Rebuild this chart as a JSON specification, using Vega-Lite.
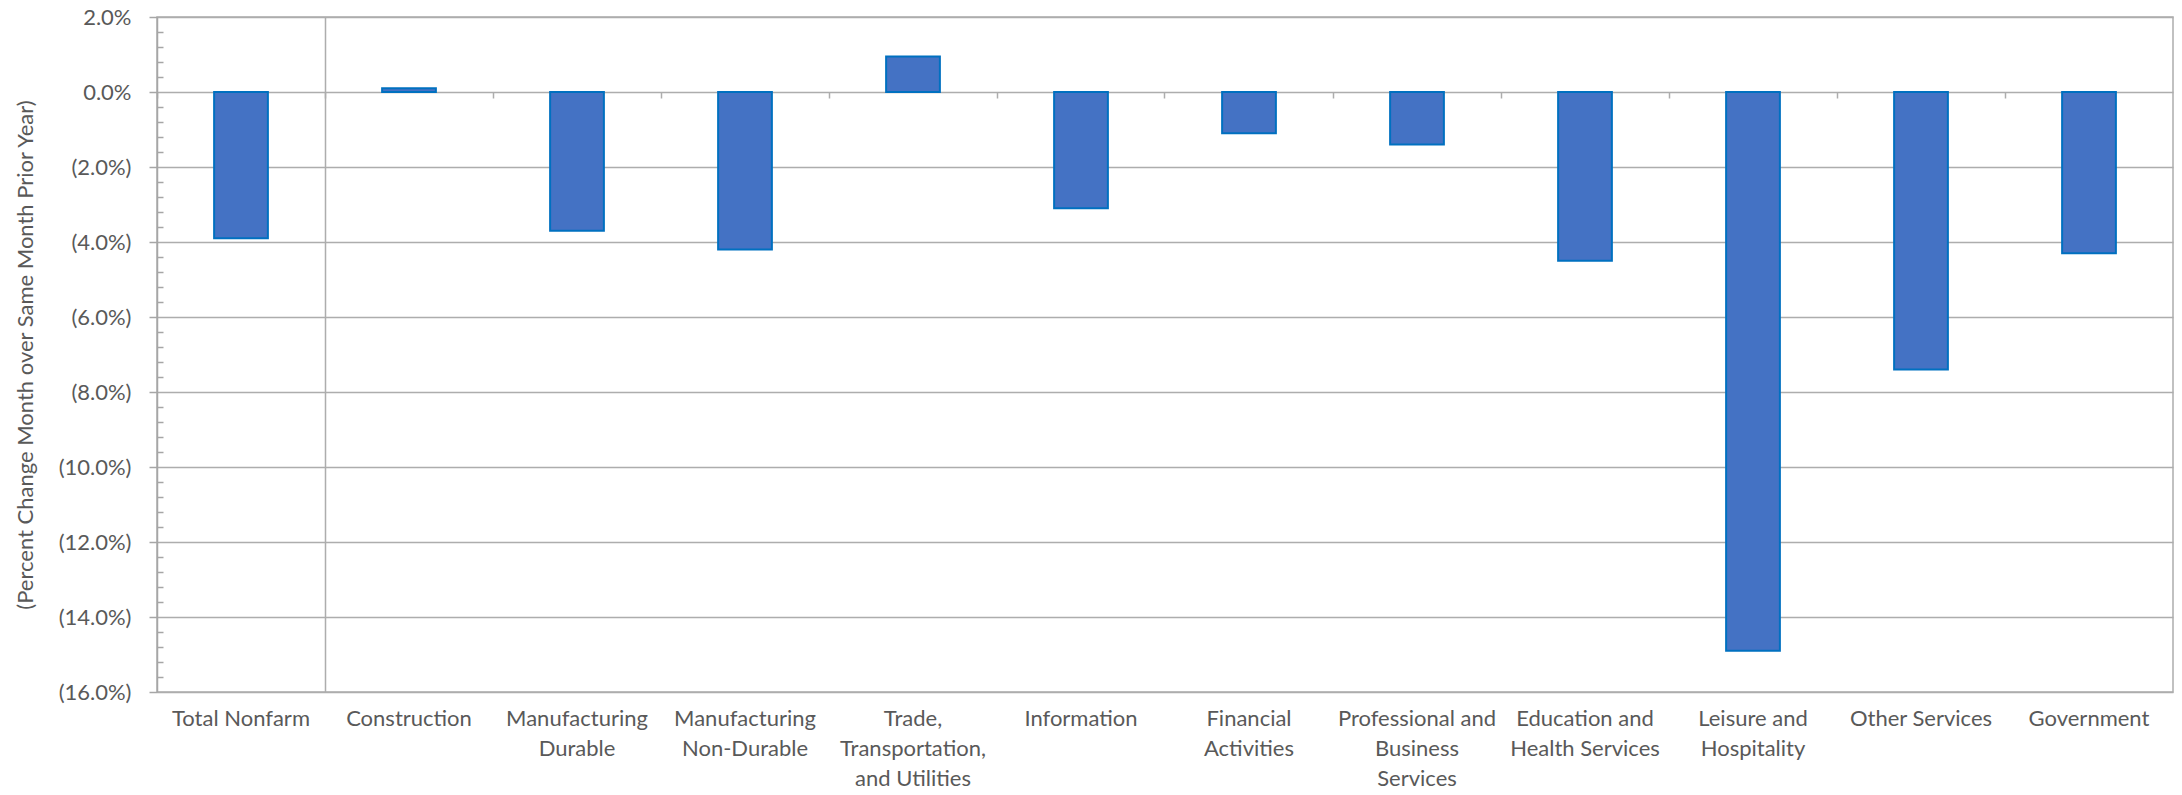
{
  "$schema": "https://vega.github.io/schema/vega-lite/v6.json",
  "autosize": "none",
  "padding": {"left": 157, "top": 17, "right": 9, "bottom": 103},
  "width": 2016,
  "height": 675,
  "background": "white",
  "config": {
    "font": "Lato",
    "view": {"stroke": "#ADADAD", "strokeWidth": 1.5},
    "axis": {"labelColor": "#595959", "titleColor": "#595959", "labelFont": "Lato", "titleFont": "Lato"}
  },
  "data": {
    "values": [
      {"industry": "Total Nonfarm", "change": -3.9},
      {"industry": "Construction", "change": 0.1},
      {"industry": "Manufacturing Durable", "change": -3.7},
      {"industry": "Manufacturing Non-Durable", "change": -4.2},
      {"industry": "Trade, Transportation, and Utilities", "change": 0.95},
      {"industry": "Information", "change": -3.1},
      {"industry": "Financial Activities", "change": -1.1},
      {"industry": "Professional and Business Services", "change": -1.4},
      {"industry": "Education and Health Services", "change": -4.5},
      {"industry": "Leisure and Hospitality", "change": -14.9},
      {"industry": "Other Services", "change": -7.4},
      {"industry": "Government", "change": -4.3}
    ]
  },
  "resolve": {"axis": {"x": "independent", "y": "independent"}},
  "layer": [
    {
      "mark": {"type": "bar", "opacity": 0},
      "encoding": {
        "x": {
          "field": "industry", "type": "nominal", "sort": null,
          "scale": {"paddingInner": 0.68, "paddingOuter": 0.34},
          "axis": {"orient": "bottom", "values": ["Construction"], "bandPosition": -1.0625, "grid": true, "gridColor": "#ADADAD", "gridWidth": 1.5, "ticks": false, "labels": false, "domain": false, "title": null}
        },
        "y": {"field": "change", "type": "quantitative", "axis": null}
      }
    },
    {
      "mark": {"type": "bar", "fill": "#4472C4", "stroke": "#0070C0", "strokeWidth": 2},
      "encoding": {
        "x": {
          "field": "industry", "type": "nominal", "sort": null,
          "scale": {"paddingInner": 0.68, "paddingOuter": 0.34},
          "axis": {
            "orient": "bottom", "title": null, "labelAngle": 0, "ticks": false, "domain": false, "grid": false,
            "labelFontSize": 22, "labelLineHeight": 30, "labelBaseline": "top", "labelPadding": 16, "labelLimit": 400,
            "labelExpr": "datum.value == 'Manufacturing Durable' ? ['Manufacturing','Durable'] : datum.value == 'Manufacturing Non-Durable' ? ['Manufacturing','Non-Durable'] : datum.value == 'Trade, Transportation, and Utilities' ? ['Trade,','Transportation,','and Utilities'] : datum.value == 'Financial Activities' ? ['Financial','Activities'] : datum.value == 'Professional and Business Services' ? ['Professional and','Business','Services'] : datum.value == 'Education and Health Services' ? ['Education and','Health Services'] : datum.value == 'Leisure and Hospitality' ? ['Leisure and','Hospitality'] : datum.value"
          }
        },
        "y": {
          "field": "change", "type": "quantitative",
          "scale": {"domain": [-16, 2], "nice": false, "zero": false},
          "axis": {
            "orient": "left",
            "values": [2, 0, -2, -4, -6, -8, -10, -12, -14, -16],
            "title": "(Percent Change Month over Same Month Prior Year)",
            "titleFontSize": 22, "titleFontWeight": "normal", "titleAngle": -90,
            "titleX": -132, "titleY": 337.5, "titleAlign": "center", "titleBaseline": "middle",
            "labelFontSize": 22, "labelPadding": 18,
            "labelExpr": "datum.value < 0 ? '(' + format(-datum.value, '.1f') + '%)' : format(datum.value, '.1f') + '%'",
            "grid": true, "gridColor": "#ADADAD", "gridWidth": 1.5,
            "domainColor": "#A6A6A6", "domainWidth": 1.5,
            "tickColor": "#A6A6A6", "tickWidth": 1.5, "tickSize": 8
          }
        }
      }
    },
    {
      "mark": {"type": "bar", "opacity": 0},
      "encoding": {
        "x": {
          "field": "industry", "type": "nominal", "sort": null,
          "scale": {"paddingInner": 0.68, "paddingOuter": 0.34},
          "axis": {"orient": "bottom", "offset": -600, "bandPosition": -1.0625, "ticks": true, "tickSize": 6, "tickColor": "#ADADAD", "tickWidth": 1.5, "labels": false, "domain": false, "grid": false, "title": null}
        },
        "y": {
          "field": "change", "type": "quantitative",
          "axis": {
            "orient": "left",
            "values": [1.6, 1.2, 0.8, 0.4, -0.4, -0.8, -1.2, -1.6, -2.4, -2.8, -3.2, -3.6, -4.4, -4.8, -5.2, -5.6, -6.4, -6.8, -7.2, -7.6, -8.4, -8.8, -9.2, -9.6, -10.4, -10.8, -11.2, -11.6, -12.4, -12.8, -13.2, -13.6, -14.4, -14.8, -15.2, -15.6],
            "labels": false, "domain": false, "grid": false, "title": null,
            "ticks": true, "tickSize": -6, "tickColor": "#A6A6A6", "tickWidth": 1.5
          }
        }
      }
    }
  ]
}
